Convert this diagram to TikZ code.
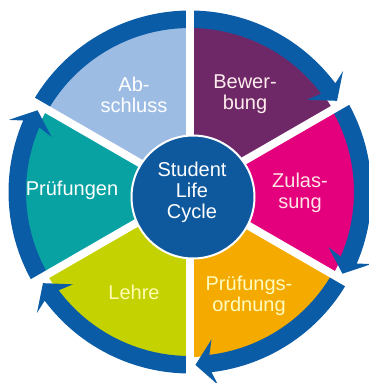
\documentclass[tikz,border=0pt]{standalone}
\usepackage{fontspec}
\setmainfont{Liberation Sans}
\usetikzlibrary{positioning}

\definecolor{ringblue}{RGB}{10,92,166}
\definecolor{coreblue}{RGB}{14,88,158}
\definecolor{abschlussblue}{RGB}{157,188,228}
\definecolor{bewerbungpurple}{RGB}{110,40,104}
\definecolor{zulassungpink}{RGB}{228,0,124}
\definecolor{ordnungorange}{RGB}{245,170,0}
\definecolor{lehregreen}{RGB}{195,210,0}
\definecolor{pruefungteal}{RGB}{8,162,162}

\tikzset{
  phase/.style={align=center, inner sep=0pt, font=\fontsize{20}{21}\selectfont},
  gap/.style={white, line width=8pt}
}

% sector: start angle, end angle, colour
\newcommand{\drawsector}[3]{\fill[#3] (0,0) -- (#1:165) arc[start angle=#1, end angle=#2, radius=165] -- cycle;}
% ring arrow: start angle, tip angle (clockwise)
\newcommand{\ringarrow}[2]{\fill[ringblue] (#1:164) arc[start angle=#1, end angle=#2+5, radius=164]
  -- (#2+6.5:149) -- (#2:173) -- (#2+6.5:195) -- (#2+5:181.5)
  arc[start angle=#2+5, end angle=#1, radius=181.5] -- cycle;}

\begin{document}
\begin{tikzpicture}[x=1pt, y=1pt]
            \useasboundingbox (-190,-191) rectangle (178,192);

            \drawsector{90}{150}{abschlussblue}
            \drawsector{30}{90}{bewerbungpurple}
            \drawsector{-30}{30}{zulassungpink}
            \drawsector{-90}{-30}{ordnungorange}
            \drawsector{-150}{-90}{lehregreen}
            \drawsector{150}{210}{pruefungteal}

            \ringarrow{150}{31.8}
            \ringarrow{30}{-28.2}
            \ringarrow{-30}{-88.2}
            \ringarrow{-90}{-148.2}
            \ringarrow{210}{151.8}

            \foreach \a in {30,90,...,330}
                \draw[gap] (0,0) -- (\a:198);

            \node[circle, fill=coreblue, draw=white, line width=2pt, minimum size=123pt, inner sep=0pt] (core) at (3,-5) {};

            \node[phase, text=white] (cycle) at (2,0) {Student\\Life\\Cycle};
            \node[phase, text=white] (abschluss) at (-56,97) {Ab-\\schluss};
            \node[phase, text=pink!30!white] (bewerbung) at (55,98) {Bewer-\\bung};
            \node[phase, text=pink!40!white] (zulassung) at (110,-1) {Zulas-\\sung};
            \node[phase, text=yellow!25!white] (ordnung) at (59,-104) {Prüfungs-\\ordnung};
            \node[phase, text=yellow!30!white] (lehre) at (-56,-100) {Lehre};
            \node[phase, text=white] (pruefungen) at (-118,2) {Prüfungen};
        \end{tikzpicture}
\end{document}
